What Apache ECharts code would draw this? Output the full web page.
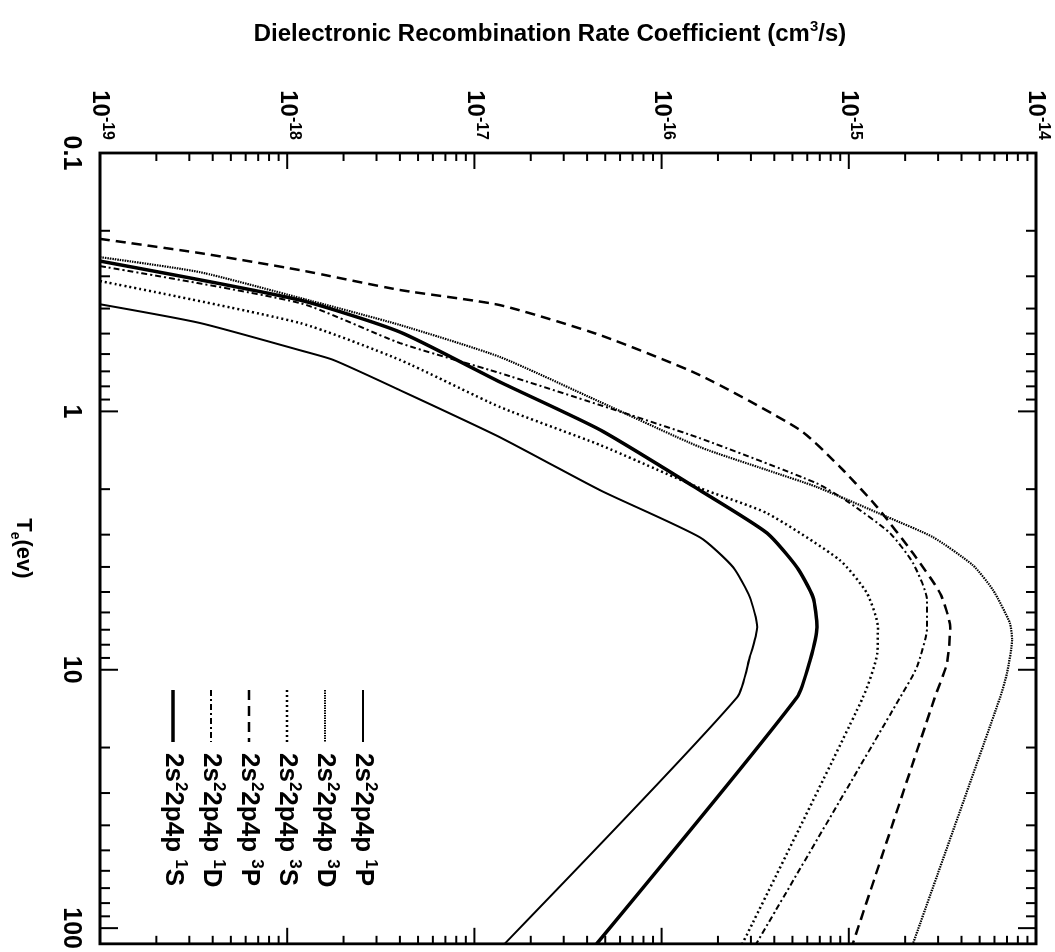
<!DOCTYPE html>
<html><head><meta charset="utf-8">
<script src="https://cdn.jsdelivr.net/npm/echarts@6/dist/echarts.min.js"></script>
<style>
html,body{margin:0;padding:0;background:#fff;overflow:hidden;width:1055px;height:952px;}
#chart{position:absolute;left:0;top:0;width:952px;height:1055px;transform-origin:0 0;transform:translateX(1055px) rotate(90deg);background:#fff;}
</style></head><body><div id="chart"></div>
<script>
// ---------------- data ----------------
const seriesKeys = ['1P','3D','3S','3P','1D','1S'];
const seriesLabels = ['2s{sup|2}2p4p {sup|1}P','2s{sup|2}2p4p {sup|3}D','2s{sup|2}2p4p {sup|3}S',
                      '2s{sup|2}2p4p {sup|3}P','2s{sup|2}2p4p {sup|1}D','2s{sup|2}2p4p {sup|1}S'];

const temp1P = [0.385,0.455,0.58,0.632,0.828,1.26,2.02,3.07,4.01,5.24,6.84,8.93,12.8,115];
const rate1P = [1e-19,3.42e-19,1.17e-18,1.76e-18,4e-18,1.37e-17,4.7e-17,1.6e-16,2.41e-16,2.96e-16,3.24e-16,2.96e-16,2.53e-16,1.45e-17];

const temp3D = [0.253,0.289,0.364,0.463,0.616,0.92,1.374,1.687,1.963,2.56,3.07,3.94,4.92,6.61,7.67,10.3,12.8,115];
const rate3D = [1e-19,3.4e-19,1.17e-18,4.0e-18,1.37e-17,4.7e-17,1.6e-16,3.66e-16,6.76e-16,1.6e-15,2.82e-15,4.6e-15,5.9e-15,7.26e-15,7.45e-15,7.0e-15,6.43e-15,2.2e-15];

const temp3S = [0.313,0.455,0.632,0.962,1.35,1.98,2.48,3.77,5.05,6.84,8.63,12.8,115];
const rate3S = [1e-19,1.17e-18,4e-18,1.37e-17,4.7e-17,1.6e-16,3.66e-16,8.97e-16,1.25e-15,1.43e-15,1.42e-15,1.19e-15,2.7e-16];

const temp3P = [0.215,0.244,0.284,0.339,0.388,0.507,0.724,1.18,1.64,2.35,3.54,5.05,6.84,9.42,12.8,115];
const rate3P = [1e-19,3.42e-19,1.17e-18,4.0e-18,1.37e-17,4.7e-17,1.6e-16,5.48e-16,8.97e-16,1.42e-15,2.2e-15,3.07e-15,3.48e-15,3.35e-15,2.88e-15,1.05e-15];

const temp1D = [0.274,0.381,0.544,0.711,0.946,1.27,1.90,2.26,2.96,3.86,5.38,6.84,9.77,12.8,115];
const rate1D = [1e-19,1.17e-18,4e-18,1.37e-17,4.7e-17,1.6e-16,6.76e-16,1.01e-15,1.66e-15,2.2e-15,2.62e-15,2.62e-15,2.31e-15,1.88e-15,3.2e-16];

const temp1S = [0.262,0.371,0.493,0.77,1.18,2.02,2.96,4.01,5.24,6.84,9.18,12.8,115];
const rate1S = [1e-19,1.17e-18,4e-18,1.37e-17,4.7e-17,1.6e-16,3.66e-16,5.28e-16,6.44e-16,6.76e-16,6.21e-16,5.28e-16,4.5e-17];

const tempTickValues = [0.1,1,10,100];
const tempTickLabels = ['0.1','1','10','100'];
const tempMinorTicks = [0.2,0.3,0.4,0.5,0.6,0.7,0.8,0.9,2,3,4,5,6,7,8,9,20,30,40,50,60,70,80,90];
const rateTickExponents = [-19,-18,-17,-16,-15,-14];
const rateTickValues = [1e-19,1e-18,1e-17,1e-16,1e-15,1e-14];
const rateMinorMantissas = [2,3,4,5,6,7,8,9];

// ---------------- build ----------------
const rateMinorTicks = [];
rateTickExponents.slice(0, -1).forEach(e => { rateMinorMantissas.forEach(m => rateMinorTicks.push(Number(m + 'e' + e))); });
const tempMin = 0.1, tempMax = 115, rateMin = 1e-19, rateMax = 1e-14;
const FONT = '"Liberation Sans", Arial, sans-serif';
const seriesData = {
  '1P':[temp1P,rate1P], '3D':[temp3D,rate3D], '3S':[temp3S,rate3S],
  '3P':[temp3P,rate3P], '1D':[temp1D,rate1D], '1S':[temp1S,rate1S]
};
const styles = {
  '1P': {width:2,   type:'solid'},
  '3D': {width:2.2, type:[1.5,1]},
  '3S': {width:2.5, type:[2,3]},
  '3P': {width:2.5, type:[10,6]},
  '1D': {width:2,   type:[6,3,2,3]},
  '1S': {width:3.5, type:'solid'}
};

const lineSeries = seriesKeys.map(k => ({
  name: k, type:'line', symbol:'none', showSymbol:false, smooth:0.2, clip:true, z:3,
  lineStyle:{color:'#000', width:styles[k].width, type:styles[k].type},
  data: seriesData[k][0].map((t,i) => [t, seriesData[k][1][i]])
}));

function tickSeries(values, dim, len) {
  return {
    type:'custom', silent:true, clip:false, z:6,
    data: values.map(v => dim === 'T' ? [v, rateMin] : [tempMin, v]),
    renderItem: function (params, api) {
      const cs = params.coordSys;
      const st = {stroke:'#000', lineWidth:2};
      if (dim === 'T') {
        const x = api.coord([api.value(0), rateMin])[0];
        return {type:'group', children:[
          {type:'line', shape:{x1:x, y1:cs.y+cs.height, x2:x, y2:cs.y+cs.height-len}, style:st},
          {type:'line', shape:{x1:x, y1:cs.y, x2:x, y2:cs.y+len}, style:st}
        ]};
      }
      const y = api.coord([tempMin, api.value(1)])[1];
      return {type:'group', children:[
        {type:'line', shape:{x1:cs.x, y1:y, x2:cs.x+len, y2:y}, style:st},
        {type:'line', shape:{x1:cs.x+cs.width, y1:y, x2:cs.x+cs.width-len, y2:y}, style:st}
      ]};
    }
  };
}

const supRich = {
  sup:{fontSize:16, fontWeight:'bold', fontFamily:FONT, color:'#000', verticalAlign:'top', lineHeight:16}
};
const rateLabelSeries = {
  type:'custom', silent:true, clip:false, z:6,
  data: rateTickValues.map((v,i) => [tempMin, v, i]),
  renderItem: function (params, api) {
    const i = api.value(2);
    const y = api.coord([tempMin, api.value(1)])[1];
    return {type:'text', x: params.coordSys.x - 13, y: y,
      style:{text:'10{sup|' + rateTickExponents[i] + '}', align:'right', verticalAlign:'middle',
             font:'bold 24px ' + FONT, fill:'#000', lineHeight:30, rich:supRich}};
  }
};

const legendGraphics = [];
seriesKeys.forEach((k,i) => {
  const y = 692 + 38*i;
  legendGraphics.push({type:'line', shape:{x1:690, y1:y, x2:742, y2:y},
    style:{stroke:'#000', lineWidth:styles[k].width, lineDash: styles[k].type === 'solid' ? null : styles[k].type}});
  legendGraphics.push({type:'text', x:753, y:y,
    style:{text:seriesLabels[i], font:'bold 26px ' + FONT, fill:'#000', align:'left', verticalAlign:'middle', lineHeight:32,
      rich:{sup:{fontSize:17, fontWeight:'bold', fontFamily:FONT, color:'#000', verticalAlign:'top', lineHeight:17}}}});
});

const chart = echarts.init(document.getElementById('chart'), null, {renderer:'canvas'});
chart.setOption({
  backgroundColor:'#fff',
  animation:false,
  grid:{left:153, right:8, top:19, bottom:100, show:true, borderColor:'#000', borderWidth:2.8, backgroundColor:'transparent'},
  xAxis:{
    type:'log', logBase:10, min:tempMin, max:tempMax,
    axisLine:{show:false}, axisTick:{show:false}, splitLine:{show:false}, minorTick:{show:false},
    axisLabel:{show:true, margin:17, color:'#000', fontSize:25, fontWeight:'bold', fontFamily:FONT,
      showMaxLabel:false,
      formatter: v => { const i = tempTickValues.findIndex(t => Math.abs(t - v) / t < 1e-6); return i >= 0 ? tempTickLabels[i] : ''; }},
    name:'T{sub|e}(ev)', nameLocation:'middle', nameGap:62,
    nameTextStyle:{color:'#000', fontSize:22, fontWeight:'bold', fontFamily:FONT, lineHeight:26, verticalAlign:'top',
      rich:{sub:{fontSize:14, fontWeight:'bold', fontFamily:FONT, color:'#000', verticalAlign:'bottom', lineHeight:30}}}
  },
  yAxis:{
    type:'log', logBase:10, min:rateMin, max:rateMax,
    axisLine:{show:false}, axisTick:{show:false}, splitLine:{show:false}, axisLabel:{show:false}, minorTick:{show:false},
    name:'Dielectronic Recombination Rate Coefficient (cm{sup|3}/s)', nameLocation:'middle', nameGap:104,
    nameTextStyle:{color:'#000', fontSize:24, fontWeight:'bold', fontFamily:FONT, lineHeight:30, padding:[0,36,0,0],
      rich:{sup:{fontSize:15, fontWeight:'bold', fontFamily:FONT, color:'#000', verticalAlign:'top', lineHeight:15}}}
  },
  graphic: legendGraphics,
  series: lineSeries.concat([
    tickSeries(tempTickValues, 'T', 18),
    tickSeries(tempMinorTicks, 'T', 10),
    tickSeries(rateTickValues, 'R', 16),
    tickSeries(rateMinorTicks, 'R', 8),
    rateLabelSeries
  ])
});
</script></body></html>
